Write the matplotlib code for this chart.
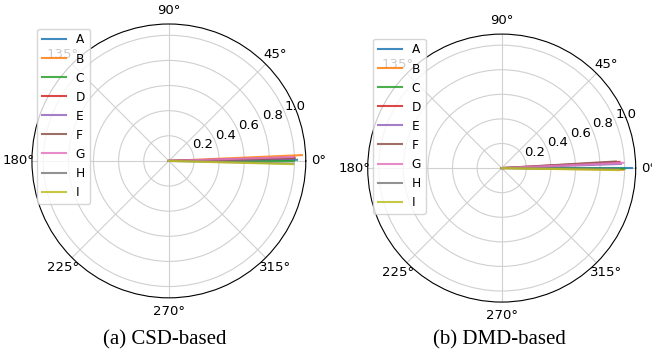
import numpy as np
import matplotlib
matplotlib.use("Agg")
import matplotlib.pyplot as plt

labels = ['A', 'B', 'C', 'D', 'E', 'F', 'G', 'H', 'I']

# angle (degrees) and magnitude of each vector
csd_deg = [0.5, 2.5, 0.0, 1.5, 1.0, 1.2, 1.8, -1.2, -1.5]
csd_r = [1.02, 1.06, 1.00, 1.00, 0.99, 1.00, 0.99, 0.99, 0.99]

dmd_deg = [0.0, -0.8, -0.3, 3.0, 2.0, 3.3, 2.5, -0.5, -1.0]
dmd_r = [1.06, 0.99, 1.00, 0.96, 0.97, 0.93, 0.99, 0.95, 0.96]

captions = ['(a) CSD-based', '(b) DMD-based']

fig = plt.figure(figsize=(6.52, 3.58), dpi=100)
ax1 = fig.add_axes([0.049, 0.168, 0.42, 0.765], projection='polar')
ax2 = fig.add_axes([0.564, 0.156, 0.411, 0.749], projection='polar')

def draw(ax, degs, rs, leg_anchor):
    for lab, d, r in zip(labels, degs, rs):
        th = np.deg2rad(d)
        ax.plot([0, th], [0, r], label=lab, lw=1.5, alpha=0.85)
    ax.set_ylim(0, 1.09)
    ax.set_yticks([0.2, 0.4, 0.6, 0.8, 1.0])
    ax.tick_params(labelsize=9.5)
    ax.tick_params(axis='x', pad=-1)
    ax.grid(True, color='#d0d0d0', lw=0.8)
    ax.spines['polar'].set_linewidth(0.8)
    ax.legend(loc='upper left', bbox_to_anchor=leg_anchor,
              bbox_transform=fig.transFigure, fontsize=8.7,
              handlelength=2.0, borderaxespad=0)

draw(ax1, csd_deg, csd_r, (0.057, 0.92))
draw(ax2, dmd_deg, dmd_r, (0.572, 0.892))

fig.text(0.253, 0.038, captions[0], ha='center', fontsize=15, family='Liberation Serif')
fig.text(0.766, 0.038, captions[1], ha='center', fontsize=15, family='Liberation Serif')

fig.savefig('out.png', dpi=100)
